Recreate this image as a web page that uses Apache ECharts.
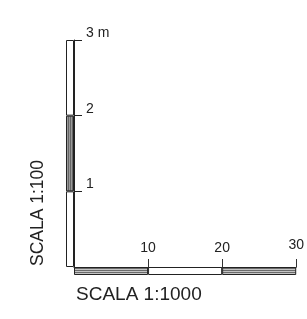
<!DOCTYPE html>
<html><head><meta charset="utf-8">
<script src="https://cdn.jsdelivr.net/npm/echarts@6/dist/echarts.min.js"></script>
<style>html,body{margin:0;padding:0;background:#fff}#c{width:307px;height:319px}</style>
</head><body><div id="c"></div>
<script>
// ---- data ----
const verticalTitle = 'SCALA 1:100';
const horizontalTitle = 'SCALA 1:1000';
const verticalSegments = [1, 1, 1];          // 0-1, 1-2, 2-3 m
const verticalHatched = [false, true, false];
const verticalTicks = [1, 2, 3];
const verticalTickLabels = ['1', '2', '3 m'];
const horizontalSegments = [10, 10, 10];     // 0-10, 10-20, 20-30
const horizontalHatched = [true, false, true];
const horizontalTicks = [10, 20, 30];
const horizontalTickLabels = ['10', '20', '30'];

function stripes(vertical) {
  const c = document.createElement('canvas');
  c.width = vertical ? 2 : 1; c.height = vertical ? 1 : 2;
  const g = c.getContext('2d');
  g.fillStyle = vertical ? '#9a9a9a' : '#c4c4c4'; g.fillRect(0, 0, c.width, c.height);
  g.fillStyle = vertical ? '#666' : '#6a6a6a'; g.fillRect(0, 0, 1, 1);
  return { image: c, repeat: 'repeat' };
}
const vPattern = stripes(true), hPattern = stripes(false);
const font = 'Liberation Sans, Arial, sans-serif';

const series = [];
verticalSegments.forEach((v, i) => series.push({
  type: 'bar', xAxisIndex: 0, yAxisIndex: 0, stack: 'v', barWidth: '100%',
  data: [v], itemStyle: { color: verticalHatched[i] ? vPattern : '#fff', borderColor: '#222', borderWidth: 1 },
  silent: true
}));
horizontalSegments.forEach((v, i) => series.push({
  type: 'bar', xAxisIndex: 1, yAxisIndex: 1, stack: 'h', barWidth: '100%',
  data: [v], itemStyle: { color: horizontalHatched[i] ? hPattern : '#fff', borderColor: '#222', borderWidth: 1 },
  silent: true
}));

const vMax = verticalTicks[verticalTicks.length - 1];
const hMax = horizontalTicks[horizontalTicks.length - 1];
const chart = echarts.init(document.getElementById('c'), null, { renderer: 'canvas' });
chart.setOption({
  animation: false,
  grid: [
    { left: 66, top: 40, width: 8, height: 227 },
    { left: 74, top: 267, width: 227, height: 8 }
  ],
  xAxis: [
    { gridIndex: 0, type: 'category', data: [verticalTitle], show: false },
    { gridIndex: 1, type: 'value', min: 0, max: hMax, interval: 10, position: 'top',
      axisLine: { show: true, lineStyle: { color: '#222', width: 1 } },
      axisTick: { show: true, length: 8, customValues: horizontalTicks, lineStyle: { color: '#333' } },
      splitLine: { show: false },
      axisLabel: { margin: 12, customValues: horizontalTicks, color: '#222', fontFamily: font, fontSize: 14,
        formatter: v => { const i = horizontalTicks.indexOf(v); return i === horizontalTicks.length - 1 ? '{r|' + horizontalTickLabels[i] + '}' : horizontalTickLabels[i]; },
        rich: { r: { fontFamily: font, fontSize: 14, color: '#222', padding: [0, 0, 3, 0] } } }
    }
  ],
  yAxis: [
    { gridIndex: 0, type: 'value', min: 0, max: vMax, interval: 1, position: 'right',
      axisLine: { show: true, lineStyle: { color: '#222', width: 1 } },
      axisTick: { show: true, length: 8, customValues: verticalTicks, lineStyle: { color: '#222' } },
      splitLine: { show: false },
      axisLabel: { margin: 12, customValues: verticalTicks, align: 'left', verticalAlign: 'bottom', color: '#222', fontFamily: font, fontSize: 14,
        formatter: v => verticalTickLabels[verticalTicks.indexOf(v)] }
    },
    { gridIndex: 1, type: 'category', data: [horizontalTitle], show: false }
  ],
  series: series,
  graphic: [
    { type: 'text', left: 76, top: 285, style: { text: horizontalTitle, font: '19px ' + font, fill: '#222' } },
    { type: 'text', x: 29, y: 266, rotation: Math.PI / 2, style: { text: verticalTitle, font: '17.5px ' + font, fill: '#222', textVerticalAlign: 'top' } }
  ]
});
</script></body></html>
